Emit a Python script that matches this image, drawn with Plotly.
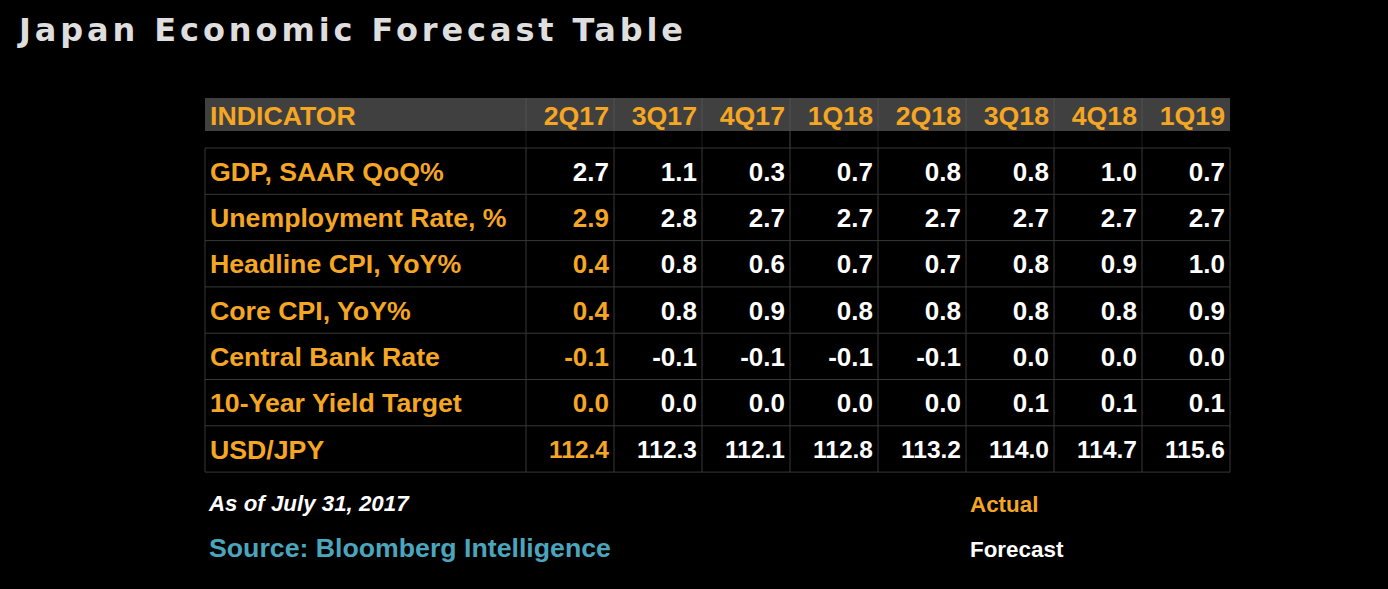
import plotly.graph_objects as go

# ---------------- data ----------------
title_text = "Japan Economic Forecast Table"
header_label = "INDICATOR"
quarters = ["2Q17", "3Q17", "4Q17", "1Q18", "2Q18", "3Q18", "4Q18", "1Q19"]
indicators = [
    "GDP, SAAR QoQ%",
    "Unemployment Rate, %",
    "Headline CPI, YoY%",
    "Core CPI, YoY%",
    "Central Bank Rate",
    "10-Year Yield Target",
    "USD/JPY",
]
gdp = ["2.7", "1.1", "0.3", "0.7", "0.8", "0.8", "1.0", "0.7"]
unemployment = ["2.9", "2.8", "2.7", "2.7", "2.7", "2.7", "2.7", "2.7"]
headline_cpi = ["0.4", "0.8", "0.6", "0.7", "0.7", "0.8", "0.9", "1.0"]
core_cpi = ["0.4", "0.8", "0.9", "0.8", "0.8", "0.8", "0.8", "0.9"]
bank_rate = ["-0.1", "-0.1", "-0.1", "-0.1", "-0.1", "0.0", "0.0", "0.0"]
yield_target = ["0.0", "0.0", "0.0", "0.0", "0.0", "0.1", "0.1", "0.1"]
usd_jpy = ["112.4", "112.3", "112.1", "112.8", "113.2", "114.0", "114.7", "115.6"]
# whether the first quarter's value is an actual (orange) figure
first_is_actual = [False, True, True, True, True, True, True]
note_text = "As of July 31, 2017"
source_text = "Source: Bloomberg Intelligence"
legend_actual = "Actual"
legend_forecast = "Forecast"

values = [gdp, unemployment, headline_cpi, core_cpi, bank_rate, yield_target, usd_jpy]

# ---------------- layout / styling ----------------
W, H = 1388, 589
ORANGE = "#f5a623"
WHITE = "#ffffff"
GRID = "#383838"
HEADER_BG = "#404040"
TEAL = "#4ba6bd"
FONT = "Liberation Sans, Arial, sans-serif"

x_left = 205
label_w = 321
col_w = 88
header_top, header_bot = 98, 131
rows_top = 148
row_h = 46.3

col_edges = [x_left, x_left + label_w] + [x_left + label_w + col_w * (i + 1) for i in range(len(quarters))]
x_right = col_edges[-1]
row_edges = [rows_top + row_h * i for i in range(len(indicators) + 1)]

fig = go.Figure()
shapes = []

# header background
shapes.append(dict(type="rect", xref="x", yref="y", x0=x_left, x1=x_right, y0=header_top, y1=header_bot,
                   fillcolor=HEADER_BG, line=dict(width=0), layer="below"))
# header separators
for xe in col_edges[1:-1]:
    shapes.append(dict(type="line", xref="x", yref="y", x0=xe, x1=xe, y0=header_top, y1=header_bot,
                       line=dict(color="#505050", width=1)))
    shapes.append(dict(type="line", xref="x", yref="y", x0=xe, x1=xe, y0=header_bot, y1=rows_top,
                       line=dict(color="#1c1c1c", width=1)))
# line crossing the gap at the 2018 boundary
x18 = col_edges[1 + quarters.index("1Q18")]
shapes.append(dict(type="line", xref="x", yref="y", x0=x18, x1=x18, y0=header_bot, y1=rows_top,
                   line=dict(color=GRID, width=1)))

# body grid
for ye in row_edges:
    shapes.append(dict(type="line", xref="x", yref="y", x0=x_left, x1=x_right, y0=ye, y1=ye,
                       line=dict(color=GRID, width=1)))
for xe in col_edges:
    shapes.append(dict(type="line", xref="x", yref="y", x0=xe, x1=xe, y0=row_edges[0], y1=row_edges[-1],
                       line=dict(color=GRID, width=1)))

# header text
hy = (header_top + header_bot) / 2 + 4
fig.add_trace(go.Scatter(
    x=[x_left + 5], y=[hy], mode="text", text=[header_label],
    textposition="middle right", textfont=dict(family=FONT, size=26.7, color=ORANGE, weight="bold"),
    hoverinfo="skip", showlegend=False))
fig.add_trace(go.Scatter(
    x=[col_edges[2 + i] - 5 for i in range(len(quarters))],
    y=[hy] * len(quarters), mode="text", text=quarters,
    textposition="middle left", textfont=dict(family=FONT, size=26.7, color=ORANGE, weight="bold"),
    hoverinfo="skip", showlegend=False))

# row labels
row_centers = [(row_edges[i] + row_edges[i + 1]) / 2 for i in range(len(indicators))]
fig.add_trace(go.Scatter(
    x=[x_left + 5] * len(indicators), y=[c + 3 for c in row_centers], mode="text", text=indicators,
    textposition="middle right", textfont=dict(family=FONT, size=26.7, color=ORANGE, weight="bold"),
    hoverinfo="skip", showlegend=False))

# values
xs, ys, ts, cs, ss = [], [], [], [], []
for r, row in enumerate(values):
    for c, v in enumerate(row):
        xs.append(col_edges[2 + c] - 5)
        ys.append(row_centers[r] + 3)
        ts.append(v)
        cs.append(ORANGE if (c == 0 and first_is_actual[r]) else WHITE)
        ss.append(24.5 if indicators[r] == "USD/JPY" else 26)
fig.add_trace(go.Scatter(
    x=xs, y=ys, mode="text", text=ts, textposition="middle left",
    textfont=dict(family=FONT, size=ss, color=cs, weight="bold"),
    hoverinfo="skip", showlegend=False))

annotations = [
    dict(x=15, y=30, xref="x", yref="y",
         text='<b><span style="letter-spacing:3.9px;font-weight:bold">' + title_text + '</span></b>',
         showarrow=False, xanchor="left", yanchor="middle",
         font=dict(family="DejaVu Sans, Verdana, sans-serif", size=32, color="#dedede", weight="bold")),
    dict(x=206, y=503, xref="x", yref="y", text=note_text, showarrow=False, xanchor="left", yanchor="middle",
         font=dict(family=FONT, size=22.3, color=WHITE, weight="bold", style="italic")),
    dict(x=207, y=548, xref="x", yref="y", text=source_text, showarrow=False, xanchor="left", yanchor="middle",
         font=dict(family=FONT, size=26.7, color=TEAL, weight="bold")),
    dict(x=968, y=504, xref="x", yref="y", text=legend_actual, showarrow=False, xanchor="left", yanchor="middle",
         font=dict(family=FONT, size=22.4, color=ORANGE, weight="bold")),
    dict(x=968, y=549, xref="x", yref="y", text=legend_forecast, showarrow=False, xanchor="left", yanchor="middle",
         font=dict(family=FONT, size=22.4, color=WHITE, weight="bold")),
]

fig.update_layout(
    width=W, height=H, margin=dict(l=0, r=0, t=0, b=0),
    paper_bgcolor="#000000", plot_bgcolor="#000000",
    xaxis=dict(range=[0, W], visible=False, fixedrange=True),
    yaxis=dict(range=[H, 0], visible=False, fixedrange=True),
    shapes=shapes, annotations=annotations, showlegend=False,
)

fig.write_html("out.html", config={"displayModeBar": False},
               post_script="document.body.style.margin='0';document.body.style.background='#000';")
